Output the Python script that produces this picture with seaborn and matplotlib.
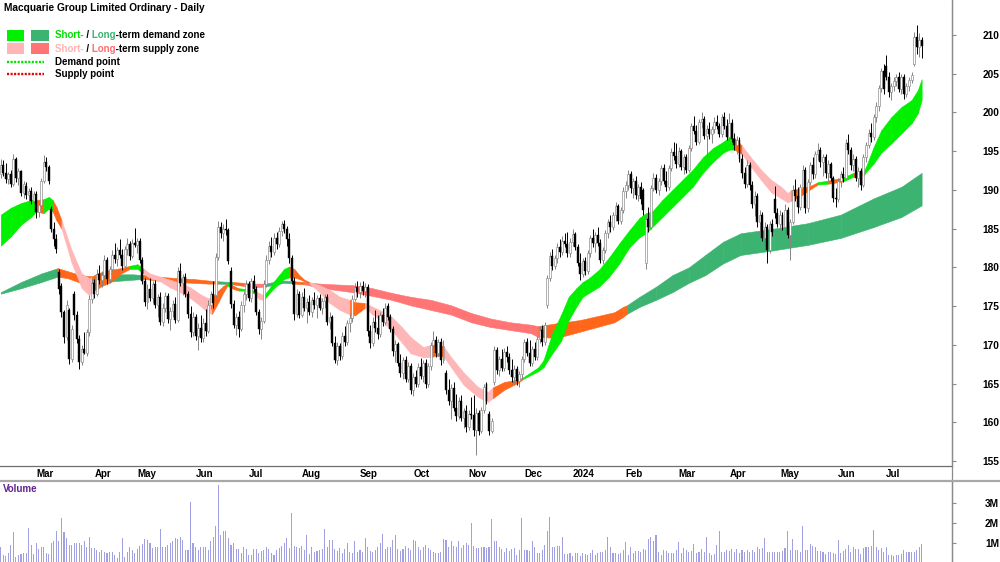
import numpy as np
import pandas as pd
import matplotlib
matplotlib.use("Agg")
import matplotlib.pyplot as plt
from matplotlib.lines import Line2D
from matplotlib.patches import Rectangle
from matplotlib.font_manager import FontProperties
from matplotlib.transforms import Bbox, TransformedBbox, IdentityTransform
import seaborn as sns

# ---------------- data ----------------
TITLE = "Macquarie Group Limited Ordinary - Daily"

MONTH_LABELS = ["Mar", "Apr", "May", "Jun", "Jul", "Aug", "Sep", "Oct", "Nov", "Dec",
                "2024", "Feb", "Mar", "Apr", "May", "Jun", "Jul"]
MONTH_POS = [14, 37, 54, 77, 98, 119, 142, 163, 185, 207, 226, 247, 268, 288, 308, 331, 350]

PRICE_TICKS = [155, 160, 165, 170, 175, 180, 185, 190, 195, 200, 205, 210]
VOL_TICKS = [1, 2, 3]
VOL_LABELS = ["1M", "2M", "3M"]

OPEN = [
192.0,193.2,192.2,191.4,192.0,190.8,194.0,191.5,192.4,189.6,
190.5,189.3,189.8,188.6,189.5,187.2,188.0,191.2,193.6,193.0,
187.5,185.0,183.6,179.4,177.6,174.2,171.0,174.5,168.2,176.6,
173.8,170.8,167.8,169.4,169.0,171.6,175.9,178.0,176.6,179.2,
178.4,179.0,181.0,178.5,179.8,181.6,181.1,182.2,181.6,180.2,
182.4,183.0,181.5,183.2,182.9,183.4,181.0,178.3,175.5,177.2,
176.0,177.8,175.2,176.2,173.0,174.8,176.3,173.3,174.4,175.3,
173.2,179.5,178.0,178.8,176.6,174.0,171.6,173.6,171.2,172.2,
170.9,172.8,171.8,175.2,176.5,176.4,181.3,185.2,184.4,185.0,
184.8,179.5,175.3,172.6,173.6,172.0,175.2,176.6,177.9,176.0,
178.2,177.2,174.2,172.0,173.1,177.8,181.0,182.8,182.0,183.8,
183.0,184.7,185.6,184.9,183.6,181.2,178.3,174.0,176.6,173.9,
176.2,174.8,175.5,174.2,175.8,175.1,176.0,174.8,175.6,176.2,
173.0,173.6,170.2,168.0,169.8,168.6,171.2,170.4,172.8,173.4,
175.9,177.5,176.8,177.6,176.9,177.5,171.8,170.2,173.0,172.2,
171.4,173.8,172.9,175.0,173.6,172.0,169.2,170.1,167.6,166.4,
168.0,165.6,167.2,164.2,165.9,165.0,167.1,166.0,167.6,164.9,
167.2,170.0,170.6,168.9,170.3,168.0,166.4,164.2,162.8,164.4,
161.8,160.8,162.8,160.6,161.4,159.4,161.1,160.9,159.0,161.2,
158.9,161.6,165.0,161.0,158.9,165.2,169.3,166.8,168.2,167.0,
169.1,168.4,166.7,165.8,166.9,165.3,166.2,168.2,170.4,169.0,
167.6,169.4,168.4,170.8,171.9,170.4,175.2,178.6,181.5,180.2,
181.2,182.6,182.0,183.4,183.0,181.8,183.3,184.3,182.6,180.6,
179.2,180.8,179.5,181.8,183.8,183.1,184.2,183.2,181.0,182.2,
184.4,185.8,185.2,186.8,187.9,186.0,187.4,189.9,190.6,192.0,
190.2,191.2,189.4,190.4,190.0,180.6,186.2,185.2,190.2,191.6,
190.0,191.2,192.8,191.2,190.4,192.8,194.9,194.4,193.3,195.0,
193.0,194.2,192.6,195.4,198.2,197.6,196.2,198.8,199.2,197.0,
197.8,197.2,197.9,198.8,198.2,197.2,199.4,198.2,196.8,198.6,
196.6,195.8,196.4,194.0,192.2,190.8,193.2,190.6,188.2,189.2,
185.8,186.8,183.8,185.2,182.2,185.6,188.8,187.0,185.6,186.8,
185.2,187.4,184.2,185.8,190.0,189.2,187.8,190.4,192.6,187.6,
191.0,193.2,192.0,194.6,195.2,193.6,194.2,192.2,193.4,191.6,
189.0,188.8,191.2,192.0,191.6,196.0,195.2,193.2,194.0,191.6,
192.4,190.6,194.2,195.8,197.4,196.8,199.4,200.8,203.2,205.4,
206.0,204.6,202.6,203.4,204.0,204.6,203.0,204.6,202.4,203.4,
204.2,206.2,209.8,208.4,209.4]

HIGH = [
194.0,193.8,193.5,192.3,192.6,194.6,194.2,192.8,192.6,191.2,
191.0,190.2,190.4,189.9,189.8,188.3,191.6,194.5,194.2,193.2,
187.9,185.8,184.3,179.8,178.0,174.5,175.8,174.8,172.5,176.9,
174.4,171.3,170.0,171.6,172.0,176.4,178.6,178.5,179.8,180.3,
179.5,181.6,181.4,180.2,182.2,183.2,182.6,183.6,182.4,182.8,
183.8,183.4,183.6,185.1,183.8,183.8,181.4,178.6,177.8,178.6,
178.2,178.4,176.6,176.8,175.4,176.8,176.7,174.9,175.8,176.2,
180.1,180.6,179.2,179.3,177.0,175.0,174.2,174.0,172.8,173.8,
173.4,174.6,175.8,177.0,178.2,181.8,186.0,185.9,185.6,186.2,
185.1,180.0,175.8,174.1,174.4,175.6,177.0,178.4,178.2,178.6,
179.0,177.6,174.6,173.6,178.4,181.6,183.4,183.9,184.4,184.6,
185.2,186.0,186.1,185.4,184.4,181.6,178.8,177.2,177.0,176.8,
177.3,176.0,176.4,176.2,176.8,176.4,176.6,176.1,176.6,176.5,
174.2,173.8,171.2,170.4,170.2,171.6,172.4,173.2,174.0,176.4,
178.0,178.3,178.1,178.2,178.0,177.8,172.6,173.6,174.5,173.8,
174.2,174.8,175.4,175.4,174.0,172.4,170.6,170.4,168.8,168.4,
168.6,167.8,167.6,166.4,166.8,167.6,168.3,168.0,168.2,167.6,
170.4,171.8,171.2,170.8,170.9,170.6,166.8,165.6,165.0,165.2,
163.6,163.2,163.5,161.8,162.2,161.6,163.2,163.5,161.8,161.6,
162.0,165.0,165.2,161.4,160.6,169.8,169.7,168.6,169.4,169.6,
169.9,169.0,168.2,167.4,167.2,166.6,168.6,170.8,170.9,170.6,
169.8,170.4,171.2,172.4,172.5,173.0,179.0,182.0,182.4,181.6,
183.2,183.6,184.0,184.4,184.6,183.8,184.9,184.6,183.0,181.8,
181.2,181.4,182.2,184.2,185.0,184.6,185.2,183.6,182.6,184.8,
186.2,186.8,187.2,188.4,188.2,187.8,190.4,191.2,192.6,192.4,
191.6,191.8,190.8,191.0,190.3,186.6,187.8,190.6,192.2,192.0,
191.6,193.2,193.4,192.4,193.2,195.4,196.2,196.0,195.6,195.3,
194.6,194.6,195.8,198.6,199.6,198.4,199.2,200.0,199.6,198.4,
198.8,198.2,199.4,199.7,198.6,199.8,200.0,199.2,199.9,199.2,
197.4,197.0,196.8,194.6,193.0,193.8,193.6,191.2,189.8,189.6,
187.4,187.2,185.8,185.6,186.0,186.2,190.5,187.6,187.4,187.2,
188.2,187.8,186.2,190.6,191.4,190.4,190.8,193.2,193.0,191.4,
193.6,194.2,195.0,196.0,195.6,194.6,194.6,193.8,193.6,191.8,
190.2,191.6,192.4,193.0,196.6,197.2,195.6,194.6,194.4,193.0,
192.8,194.6,196.2,197.8,198.6,199.8,201.4,203.6,205.8,206.2,
207.4,205.2,203.8,204.6,205.0,205.2,205.0,205.0,203.8,204.6,
205.2,210.4,211.3,210.2,209.8]

LOW = [
191.5,191.8,190.9,190.8,190.4,190.5,191.0,190.6,189.2,189.0,
188.8,188.0,188.2,188.3,186.4,186.5,187.6,190.9,192.4,190.8,
184.6,182.8,181.8,176.6,173.6,170.2,170.6,167.5,167.8,173.2,
170.2,166.9,167.4,168.8,168.6,171.2,175.4,176.0,176.3,177.8,
177.4,178.6,177.9,178.0,179.4,180.6,180.2,181.2,179.6,179.8,
181.6,181.0,181.2,182.6,181.8,180.6,177.8,175.0,174.6,175.6,
175.4,174.8,173.6,172.6,172.4,174.2,172.8,171.9,173.6,172.8,
172.9,177.6,176.4,176.2,173.4,171.0,171.2,170.6,169.3,170.4,
170.4,171.2,171.5,174.6,174.8,176.2,181.0,183.8,183.4,184.2,
180.4,174.8,172.2,171.3,171.0,171.8,174.2,175.8,175.6,175.5,
176.8,173.8,171.4,170.8,172.8,177.4,180.4,181.4,181.6,182.4,
182.6,184.0,184.4,182.8,180.6,177.8,173.2,173.6,173.4,173.6,
174.4,172.8,173.8,173.6,174.6,173.5,174.5,174.0,174.8,172.6,
172.0,169.8,167.6,167.4,168.0,168.2,169.8,170.0,171.6,173.0,
175.6,176.2,176.0,176.4,176.2,171.2,169.6,169.8,171.6,170.8,
171.0,172.4,172.6,173.2,171.6,168.6,167.8,167.2,165.8,165.6,
165.2,165.2,163.6,163.4,164.6,164.6,165.6,165.2,164.4,164.6,
166.8,169.4,168.4,168.5,167.4,167.6,163.6,162.2,160.4,161.4,
160.2,160.4,160.2,159.2,158.8,159.0,160.4,158.2,155.8,158.4,
158.6,161.2,162.4,158.4,158.6,164.8,166.2,166.0,166.6,166.6,
167.8,166.2,165.2,165.0,164.8,164.6,165.6,167.8,168.6,167.2,
167.2,168.0,168.0,170.2,169.8,170.0,174.8,178.2,179.6,179.8,
180.6,181.4,181.6,182.6,181.4,181.4,182.8,182.2,180.2,178.4,
178.8,179.0,179.2,181.4,182.6,182.0,182.8,180.6,180.4,181.8,
183.8,184.6,184.8,186.0,185.6,185.6,187.0,189.0,190.0,189.6,
189.0,188.8,188.6,188.2,186.8,179.8,184.6,185.0,189.8,189.6,
189.4,190.6,190.8,189.8,190.0,192.4,193.8,192.8,193.0,192.6,
192.0,192.2,192.3,195.0,197.2,195.8,195.9,198.0,196.6,194.2,
196.6,196.0,197.4,197.8,196.8,196.8,197.8,196.4,196.4,196.2,
195.2,194.6,193.6,191.6,190.2,190.4,190.0,187.6,186.6,185.2,
184.2,183.4,183.2,180.6,181.8,184.0,186.4,185.2,184.8,184.8,
184.8,183.8,181.0,185.6,188.6,187.0,187.4,190.0,187.0,187.2,
190.6,191.4,191.6,193.8,193.0,191.8,191.6,191.0,191.2,188.4,
187.8,188.4,190.4,191.0,191.4,194.6,192.6,192.4,191.2,190.4,
190.0,190.4,193.6,195.4,196.2,196.4,198.8,200.2,202.6,202.4,
204.2,202.0,201.6,202.8,203.4,202.6,202.4,201.8,202.0,202.8,
203.8,206.0,207.6,207.2,207.0]

CLOSE = [
193.2,192.2,191.4,192.0,190.8,194.0,191.5,192.4,189.6,190.7,
189.3,189.8,188.6,189.5,187.2,188.0,191.2,193.6,193.0,191.2,
185.0,183.6,182.4,177.2,174.2,171.0,175.1,168.2,172.0,173.8,
170.8,167.8,169.4,169.0,171.6,175.9,178.0,176.6,179.2,178.4,
179.0,181.0,178.5,179.8,181.6,181.1,182.2,181.6,180.2,182.4,
183.0,181.5,183.2,182.9,183.4,181.0,178.3,175.5,177.2,176.0,
177.8,175.2,176.2,173.0,174.8,176.3,173.3,174.4,175.3,173.2,
179.5,178.0,178.8,176.6,174.0,171.6,173.6,171.2,172.2,170.9,
172.8,171.8,175.2,176.5,175.4,181.3,185.2,184.4,185.0,184.8,
180.8,175.3,172.6,173.6,172.0,175.2,176.6,177.9,176.0,178.2,
177.2,174.2,172.0,173.1,177.8,181.0,182.8,182.0,183.8,183.0,
184.7,185.6,184.9,183.6,181.2,178.3,174.0,176.6,173.9,176.2,
174.8,175.5,174.2,175.8,175.1,176.0,174.8,175.6,176.2,173.0,
173.6,170.2,168.0,169.8,168.6,171.2,170.4,172.8,173.4,175.9,
177.5,176.8,177.6,176.9,177.5,171.8,170.2,173.0,172.2,171.4,
173.8,172.9,174.8,173.6,172.0,169.2,170.1,167.6,166.4,168.0,
165.6,167.2,164.2,165.9,165.0,167.1,166.0,167.6,164.9,167.2,
170.0,170.6,168.9,170.3,168.0,169.9,164.2,162.8,164.4,161.8,
160.8,162.8,160.6,161.4,159.4,161.1,160.9,159.0,161.2,158.9,
161.6,164.6,162.8,158.9,160.2,169.3,166.8,168.2,167.0,169.1,
168.4,166.7,165.8,166.9,165.3,166.2,168.2,170.4,169.0,167.6,
169.4,168.4,170.8,171.9,170.4,172.6,178.6,181.5,180.2,181.2,
182.6,182.0,183.4,183.0,181.8,183.3,184.3,182.6,180.6,179.2,
180.8,179.5,181.8,183.8,183.1,184.2,183.2,181.0,182.2,184.4,
185.8,185.2,186.8,187.9,186.0,187.4,189.9,190.6,192.0,190.2,
191.2,189.4,190.4,188.8,187.4,186.2,185.2,190.2,191.6,190.0,
191.2,192.8,191.2,190.4,192.8,194.9,194.4,193.3,195.0,193.0,
194.2,192.6,195.4,198.2,197.6,196.2,198.8,199.2,197.0,197.8,
197.2,197.9,198.8,198.2,197.2,199.4,198.2,196.8,198.6,196.6,
195.8,196.4,194.0,192.2,190.8,193.2,190.6,188.2,189.2,185.8,
186.8,183.8,185.2,182.2,185.6,184.6,187.0,185.6,186.8,185.2,
187.4,184.2,185.8,190.0,189.2,187.8,190.4,192.6,187.6,191.0,
193.2,192.0,194.6,195.2,193.6,194.2,192.2,193.4,191.6,189.0,
188.8,191.2,192.0,191.6,196.0,195.2,193.2,194.0,191.6,192.4,
190.6,194.2,195.8,197.4,196.8,199.4,200.8,203.2,205.4,203.0,
204.6,202.6,203.4,204.0,204.6,203.0,204.6,202.4,203.4,204.2,
204.8,209.8,208.4,209.4,208.6]

VOLUME_M = [
0.8,0.42,0.37,0.53,0.92,1.55,0.33,0.42,0.45,0.5,
0.5,1.75,0.92,0.47,1.03,0.7,0.8,0.83,0.53,0.47,
1.03,1.1,1.6,1.1,2.25,1.55,1.27,0.92,0.92,1.0,
1.03,1.0,0.92,1.1,0.8,1.3,0.75,0.75,0.67,0.58,
0.67,0.55,0.53,0.55,0.55,0.42,0.25,0.58,1.27,0.33,
0.58,0.8,0.67,0.53,0.7,0.87,0.97,1.2,1.15,1.03,
0.75,0.8,0.83,1.7,0.83,0.8,0.92,1.03,1.1,1.27,
1.2,1.3,1.15,0.67,0.67,3.05,1.0,0.8,0.67,0.8,
0.83,0.8,0.67,1.1,1.3,1.87,3.9,1.4,1.6,1.6,
1.27,0.92,1.0,0.7,0.7,0.53,0.8,0.7,0.42,0.42,
0.7,0.7,0.53,0.63,0.67,0.8,0.7,0.5,0.42,0.67,
0.75,0.87,1.0,1.27,0.75,2.5,0.87,0.8,0.75,0.87,
0.67,1.4,0.47,0.8,0.58,0.63,0.67,0.7,1.7,0.8,
1.15,1.15,0.7,0.63,0.75,0.53,0.7,1.0,0.58,0.5,
1.1,0.58,0.67,0.58,1.27,0.8,0.63,0.58,0.67,0.8,
1.0,1.47,0.7,0.8,0.8,1.17,1.43,0.7,0.63,0.7,
0.87,0.75,0.67,1.17,1.1,0.8,0.67,0.8,0.92,0.75,
0.67,0.58,0.5,0.53,0.58,1.2,1.17,0.8,1.1,0.87,
0.8,1.1,0.75,0.92,1.03,0.92,2.0,0.87,0.75,0.75,
0.8,0.8,0.75,0.8,2.2,1.1,1.1,0.8,0.7,0.58,
0.75,0.63,0.7,0.75,0.42,0.67,2.25,0.67,0.67,0.63,
1.1,0.83,0.53,0.5,0.67,0.92,1.6,2.3,0.8,0.8,
0.87,0.87,1.3,0.47,0.47,0.53,0.38,0.5,0.53,0.38,
0.5,0.47,0.42,0.5,0.67,0.42,0.5,0.58,0.58,0.67,
1.3,0.8,0.53,0.53,0.47,0.53,0.67,1.05,0.42,0.8,
0.53,0.63,0.63,0.58,0.7,0.67,1.2,1.3,1.1,1.4,
0.58,0.42,0.67,0.63,0.53,0.53,0.53,0.67,1.05,0.5,
0.75,0.67,0.58,0.63,0.97,0.5,0.58,0.7,0.58,1.3,
0.53,0.42,0.47,0.92,1.6,0.58,0.58,0.67,0.63,0.7,
0.58,0.7,0.5,0.67,0.58,0.67,0.58,0.67,0.58,0.8,
0.7,0.75,1.27,0.58,0.58,0.58,0.58,0.58,0.58,0.63,
0.75,1.6,0.67,1.2,0.67,0.67,0.58,1.87,0.67,0.67,
0.98,0.87,0.8,0.63,0.63,0.58,0.47,0.58,0.58,0.5,
0.47,1.15,0.5,0.63,0.7,0.92,0.58,0.8,0.7,0.7,
0.47,0.75,0.8,0.8,0.87,1.65,0.8,0.67,0.75,0.58,
0.83,0.42,0.42,0.38,0.42,0.42,0.47,0.67,0.58,0.58,
0.58,0.58,0.67,0.8,0.98]

# short-term zone (band edges read at anchor days) and zone type per segment
ST_IDX = [0, 4, 8, 12, 14, 17, 19, 20.5, 22, 24,
          28, 32, 34, 35, 36, 38, 40, 43.5, 47.5, 51,
          54, 56.5, 59, 63, 67, 71, 75, 79, 82, 83.5,
          86, 88, 89.5, 90.5, 92, 94, 97, 100.5, 102, 104,
          106, 108, 110, 112, 114, 116, 118, 120, 122, 126,
          130, 134, 138, 140, 144, 147, 151, 154.5, 158.5, 162,
          167, 170, 172, 175, 178, 183, 188.5, 192.5, 194.5, 199,
          204.5, 206.5, 212.5, 214.5, 218, 221.5, 224.5, 227.5, 230, 232.5,
          236.5, 240.5, 244.5, 248.5, 252.5, 255, 257.5, 261.5, 265.5, 269.5,
          273.5, 277.5, 281.5, 285.5, 288, 290, 293, 296.5, 300.5, 304.5,
          308.5, 311, 312.5, 316.5, 320.5, 323, 327, 333, 337, 341,
          342, 345, 348, 352, 356, 360, 362.5, 364]
ST_TOP = [186.8, 187.7, 188.3, 188.7, 188.7, 188.8, 189.1, 188.7, 187.8, 186.1,
          182.2, 179.2, 178.8, 178.6, 178.8, 179.2, 179.4, 179.7, 179.9, 180.2,
          180.4, 179.8, 179.2, 178.8, 178.4, 178.0, 177.4, 176.5, 176.0, 176.2,
          177.0, 177.6, 177.9, 177.9, 177.6, 177.3, 177.2, 177.0, 176.7, 176.4,
          177.2, 178.2, 179.0, 179.8, 180.1, 179.8, 179.0, 178.4, 178.1, 177.7,
          177.1, 176.2, 175.8, 175.5, 175.4, 174.9, 174.3, 173.6, 172.3, 171.0,
          169.7, 170.0, 170.1, 169.8, 168.4, 166.4, 164.6, 163.9, 164.5, 165.2,
          165.5, 165.8, 167.1, 168.0, 171.5, 173.9, 176.2, 177.3, 178.1, 178.6,
          179.7, 181.3, 183.1, 184.8, 186.4, 187.0, 187.2, 188.7, 190.0, 191.3,
          192.6, 194.2, 195.4, 196.2, 196.8, 196.7, 195.7, 194.2, 192.6, 191.3,
          190.4, 189.6, 190.0, 190.2, 190.6, 191.0, 191.2, 191.6, 192.2, 192.3,
          193.0, 195.5, 197.7, 199.4, 200.7, 201.6, 202.9, 204.3]
ST_BOT = [182.8, 184.0, 185.5, 186.5, 187.2, 187.0, 187.6, 187.2, 186.1, 185.0,
          180.6, 177.3, 176.7, 176.4, 177.0, 177.2, 177.6, 178.1, 179.2, 179.8,
          179.8, 179.2, 178.6, 178.2, 177.4, 176.8, 176.0, 175.0, 174.1, 174.0,
          175.5, 176.8, 177.6, 177.5, 177.2, 177.0, 177.0, 176.6, 175.9, 175.8,
          176.6, 177.3, 177.9, 178.5, 178.7, 178.7, 178.5, 178.2, 177.9, 176.8,
          175.4, 174.5, 173.9, 173.8, 174.8, 173.9, 173.0, 171.9, 170.3, 168.9,
          168.4, 168.4, 168.6, 168.5, 167.1, 164.8, 163.3, 162.6, 163.1, 164.2,
          165.1, 165.6, 166.6, 167.1, 168.9, 170.5, 173.2, 174.9, 176.2, 176.7,
          177.5, 178.8, 180.5, 182.6, 183.9, 184.4, 185.2, 186.5, 187.8, 189.1,
          190.4, 192.2, 193.6, 194.8, 195.2, 195.2, 194.6, 193.0, 191.3, 189.7,
          188.9, 188.4, 188.6, 189.3, 190.2, 190.7, 190.8, 191.1, 191.7, 191.8,
          192.3, 193.4, 194.8, 196.0, 197.3, 198.6, 199.9, 201.6]
ST_ZONE = ["G", "G", "G", "G", "O", "G", "G", "O", "O", "P",
           "P", "P", "P", "P", "O", "O", "O", "O", "O", "G",
           "G", "P", "P", "P", "P", "P", "P", "P", "P", "O",
           "O", "O", "G", "O", "O", "G", "G", "P", "P", "G",
           "G", "G", "G", "G", "O", "O", "O", "O", "P", "P",
           "P", "P", "O", "O", "P", "P", "P", "P", "P", "P",
           "P", "O", "O", "P", "P", "P", "P", "P", "O", "O",
           "O", "G", "G", "G", "G", "G", "G", "G", "G", "G",
           "G", "G", "G", "G", "G", "G", "G", "G", "G", "G",
           "G", "G", "G", "G", "G", "O", "P", "P", "P", "P",
           "P", "P", "O", "O", "O", "G", "O", "G", "O", "G",
           "G", "G", "G", "G", "G", "G", "G", "G"]

# long-term zone
LT_IDX = [0, 8, 16, 22.5, 26.5, 31.5, 37.5, 40, 44, 52,
          56.5, 62, 70, 76, 82, 86, 92, 96, 100, 104,
          112, 116, 120, 126, 132, 139, 147, 154.5, 162, 170,
          178, 186, 193.5, 201.5, 209.5, 212.5, 220, 229, 242.5, 246,
          247.5, 252.5, 259, 265.5, 272, 278.5, 285.5, 292.5, 305.5, 319,
          332, 345, 356, 364]
LT_TOP = [176.8, 178.1, 179.2, 179.9, 179.5, 179.0, 178.8, 179.0, 179.1, 179.1,
          179.0, 178.8, 178.6, 178.5, 178.3, 178.2, 178.1, 178.0, 177.9, 177.9,
          178.3, 178.2, 178.1, 177.9, 177.8, 177.7, 177.3, 176.7, 176.2, 175.8,
          175.1, 174.1, 173.4, 172.9, 172.6, 172.4, 172.8, 173.2, 174.2, 174.9,
          175.1, 176.2, 177.5, 179.0, 180.0, 181.6, 183.3, 184.4, 185.0, 185.7,
          186.8, 188.9, 190.4, 192.2]
LT_BOT = [176.6, 177.3, 178.1, 178.8, 178.6, 178.0, 177.4, 177.8, 178.2, 178.4,
          178.5, 178.3, 178.1, 178.0, 177.9, 177.9, 177.8, 177.6, 177.4, 177.5,
          178.0, 177.9, 177.8, 177.4, 177.1, 176.8, 176.3, 175.8, 175.1, 174.5,
          173.9, 172.9, 172.3, 171.9, 171.5, 171.0, 170.9, 171.7, 172.9, 173.6,
          174.0, 174.9, 175.8, 176.8, 178.0, 179.0, 180.5, 181.6, 182.2, 182.9,
          183.8, 185.2, 186.5, 188.0]
LT_ZONE = ["D", "D", "D", "O", "O", "O", "O", "O", "D", "D",
           "O", "O", "O", "O", "O", "D", "O", "S", "S", "D",
           "D", "O", "S", "S", "S", "S", "S", "S", "S", "S",
           "S", "S", "S", "S", "S", "O", "O", "O", "O", "O",
           "D", "D", "D", "D", "D", "D", "D", "D", "D", "D",
           "D", "D", "D", "D"]

ZONE_COLORS = {"G": "#00F000", "P": "#FFB6B6", "O": "#FF661A",
               "D": "#3CB371", "S": "#FF7474"}

# ---------------- figure ----------------
sns.set_style("white")
plt.rcParams["font.family"] = ["Liberation Sans", "DejaVu Sans"]

W, H = 1000, 562
fig = plt.figure(figsize=(W / 100, H / 100), dpi=100)
fig.patch.set_facecolor("white")
ax = fig.add_axes([0, 96 / H, 952 / W, 466 / H])
axv = fig.add_axes([0, 0, 952 / W, 80 / H])

XMIN, XMAX = -0.3, 376.0

n = min(len(OPEN), len(HIGH), len(LOW), len(CLOSE))
days = np.arange(n)
o = np.array(OPEN[:n]); h = np.array(HIGH[:n]); l = np.array(LOW[:n]); c = np.array(CLOSE[:n])
up = c >= o


def draw_zone(idx, top, bot, codes, z):
    m = min(len(idx), len(top), len(bot), len(codes))
    for k in range(m - 1):
        col = ZONE_COLORS[codes[k]]
        ax.fill_between(idx[k:k + 2], bot[k:k + 2], top[k:k + 2],
                        facecolor=col, edgecolor=col, linewidth=0.4, zorder=z)


draw_zone(LT_IDX, LT_TOP, LT_BOT, LT_ZONE, 1)
draw_zone(ST_IDX, ST_TOP, ST_BOT, ST_ZONE, 2)

# candles
EDGE = "#858585"
ax.vlines(days[up], l[up], h[up], color=EDGE, lw=0.7, zorder=3)
ax.vlines(days[~up], l[~up], h[~up], color="black", lw=0.7, zorder=3)
body = np.maximum(np.abs(c - o), 0.12)
base = np.minimum(o, c)
ax.bar(days[up], body[up], bottom=base[up], width=0.78, color="white",
       edgecolor=EDGE, linewidth=0.45, zorder=4)
ax.bar(days[~up], body[~up], bottom=base[~up], width=0.78, color="black",
       edgecolor="black", linewidth=0.3, zorder=4)

ax.set_xlim(XMIN, XMAX)
ax.set_ylim(154.35, 214.52)
ax.set_facecolor("white")
for s in ["top", "left"]:
    ax.spines[s].set_visible(False)
ax.spines["right"].set_color("#8a8a8a")
ax.spines["bottom"].set_color("#6e6e6e")
ax.spines["right"].set_linewidth(0.9)
ax.spines["bottom"].set_linewidth(0.9)
ax.yaxis.tick_right()
ax.set_yticks(PRICE_TICKS)
ax.set_yticklabels([str(t) for t in PRICE_TICKS])
ax.tick_params(axis="y", length=3, width=0.8, color="#8a8a8a", pad=30.9,
               labelsize=7.3, labelcolor="black", left=False, right=True)
for t in ax.get_yticklabels():
    t.set_ha("right")
    t.set_fontweight("bold")
ax.set_xticks(MONTH_POS)
ax.set_xticklabels(MONTH_LABELS)
ax.tick_params(axis="x", length=3, width=0.8, color="#6e6e6e", pad=-0.5,
               labelsize=7, labelcolor="black")
for t in ax.get_xticklabels():
    t.set_ha("left")
    t.set_fontweight("bold")
ax.grid(False)

# volume
nv = min(n, len(VOLUME_M))
vdf = pd.DataFrame({"day": days[:nv], "vol": VOLUME_M[:nv]})
sns.barplot(data=vdf, x="day", y="vol", native_scale=True, color="#a0a0e2",
            saturation=1, width=0.42, errorbar=None, linewidth=0, ax=axv)
axv.set_xlim(XMIN, XMAX)
axv.set_ylim(0.07, 4.07)
axv.set_xlabel("")
axv.set_ylabel("")
axv.set_xticks([])
for s in ["top", "left", "bottom"]:
    axv.spines[s].set_visible(False)
axv.spines["right"].set_color("#8a8a8a")
axv.spines["right"].set_linewidth(0.9)
axv.yaxis.tick_right()
axv.set_yticks(VOL_TICKS)
axv.set_yticklabels(VOL_LABELS)
axv.tick_params(axis="y", length=3, width=0.8, color="#8a8a8a", pad=30.9,
                labelsize=7.3, labelcolor="black", left=False, right=True)
for t in axv.get_yticklabels():
    t.set_ha("right")
    t.set_fontweight("bold")
axv.grid(False)

fig.text(3 / W, 1 - 489.5 / H, "Volume", color="#5E2590", fontsize=7,
         fontweight="bold", va="center", ha="left")

# separators
fig.add_artist(Line2D([952 / W, 952 / W], [0, 1], color="#8a8a8a", lw=0.9))
fig.add_artist(Line2D([0, 1], [1 - 481 / H, 1 - 481 / H], color="#a8a8a8", lw=1.6))

# title and legend
fig.text(4 / W, 1 - 8 / H, TITLE, fontsize=7.3, fontweight="bold",
         va="center", ha="left", color="black")


def rect(x0, y0, x1, y1, col):
    fig.add_artist(Rectangle((x0 / W, 1 - y1 / H), (x1 - x0) / W, (y1 - y0) / H,
                             transform=fig.transFigure, facecolor=col,
                             edgecolor="none"))


rect(7, 30, 24, 40.5, ZONE_COLORS["G"])
rect(31, 30, 49, 40.5, ZONE_COLORS["D"])
rect(7, 43, 24, 53.5, ZONE_COLORS["P"])
rect(31, 43, 49, 53.5, ZONE_COLORS["S"])
fig.add_artist(Line2D([7 / W, 44 / W], [1 - 62 / H] * 2, color="#00E000", lw=1.7,
                      linestyle=(0, (0.9, 0.6)), solid_capstyle="butt",
                      dash_capstyle="butt"))
fig.add_artist(Line2D([7 / W, 44 / W], [1 - 74 / H] * 2, color="#EE0000", lw=1.7,
                      linestyle=(0, (0.9, 0.6)), solid_capstyle="butt",
                      dash_capstyle="butt"))

renderer = fig.canvas.get_renderer()
LEG_FONT = FontProperties(family=["Liberation Sans", "DejaVu Sans"], weight="bold", size=7)


def text_width(s):
    if not s:
        return 0.0
    w1, _, _ = renderer.get_text_width_height_descent(s + "|", LEG_FONT, ismath=False)
    w2, _, _ = renderer.get_text_width_height_descent("|", LEG_FONT, ismath=False)
    return w1 - w2


def colored_text(x_px, y_px, parts):
    # the whole line is drawn once per colour, each copy clipped to its own span,
    # so the glyph spacing is exactly that of the uninterrupted string
    full = "".join(s for s, _ in parts)
    prefix = ""
    for k, (s, col) in enumerate(parts):
        x0 = x_px + text_width(prefix) - (3 if k == 0 else 0)
        x1 = x_px + text_width(prefix + s) + (3 if k == len(parts) - 1 else 0)
        t = fig.text(x_px / W, 1 - y_px / H, full, color=col, fontproperties=LEG_FONT,
                     va="center", ha="left")
        yc = H - y_px
        t.set_clip_box(TransformedBbox(Bbox.from_extents(x0, yc - 10, x1, yc + 10),
                                       IdentityTransform()))
        t.set_clip_on(True)
        prefix += s


colored_text(55, 35.5, [("Short-", "#00E000"), (" / ", "black"), ("Long", "#3CB371"),
                        ("-term demand zone", "black")])
colored_text(55, 48.5, [("Short-", "#FFB3B3"), (" / ", "black"), ("Long", "#FF6E6E"),
                        ("-term supply zone", "black")])
colored_text(55, 62, [("Demand point", "black")])
colored_text(55, 74, [("Supply point", "black")])

fig.savefig("out.png", dpi=100, facecolor="white")
